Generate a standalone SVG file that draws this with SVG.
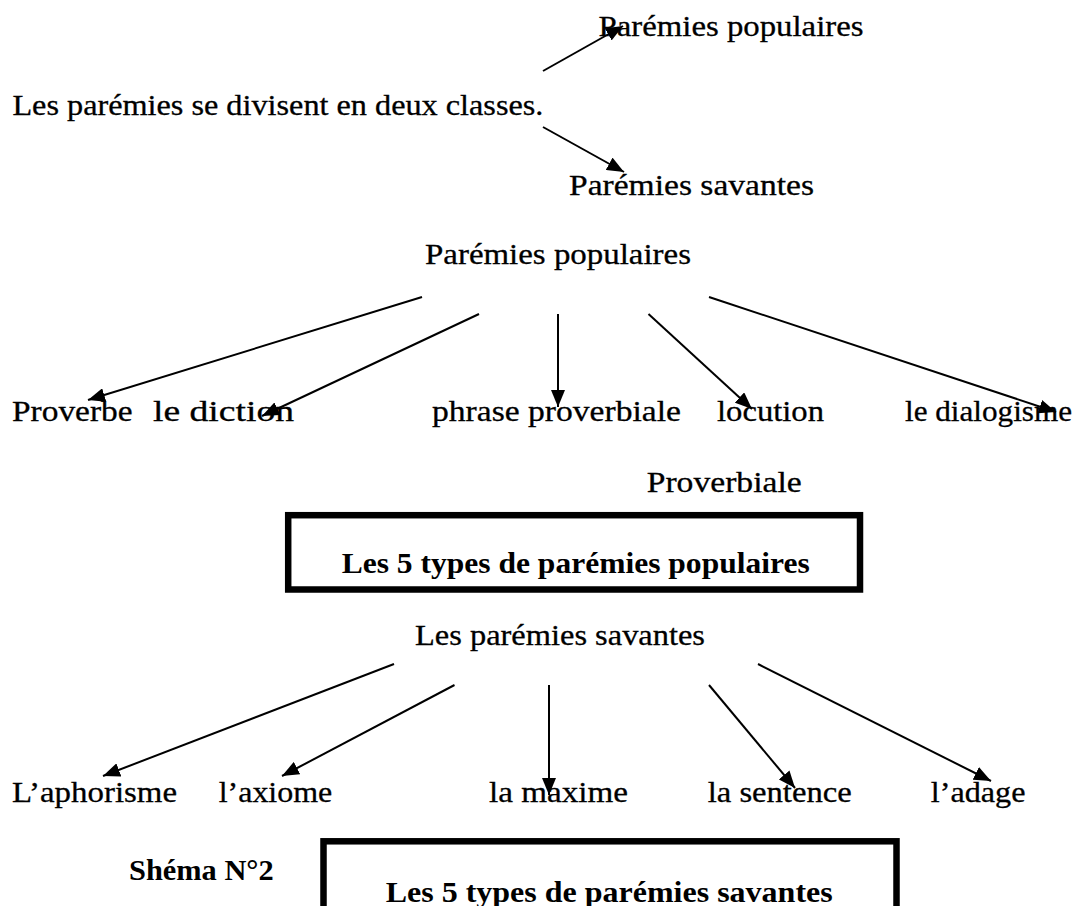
<svg xmlns="http://www.w3.org/2000/svg" width="1080" height="906" viewBox="0 0 1080 906">
<style>
.t{font-family:"Liberation Serif","Times New Roman",serif;font-size:30px;fill:#000;stroke:#000;stroke-width:0.3}
.b{font-family:"Liberation Serif","Times New Roman",serif;font-size:30px;font-weight:bold;fill:#000}
.c{stroke:#000;stroke-width:2;fill:none;marker-end:url(#ah)}
.box{fill:#fff;stroke:#000;stroke-width:6.5}
</style>
<defs>
<marker id="ah" markerUnits="userSpaceOnUse" markerWidth="18" markerHeight="14" refX="17" refY="7" orient="auto">
<path d="M0,0 L17,7 L0,14 Z" fill="#000"/>
</marker>
</defs>
<rect width="1080" height="906" fill="#fff"/>
<g id="root"><text class="t" x="12.4" y="115" textLength="531" lengthAdjust="spacingAndGlyphs">Les parémies se divisent en deux classes.</text></g>
<g id="pop_top"><text class="t" x="598.5" y="36" textLength="265" lengthAdjust="spacingAndGlyphs">Parémies populaires</text></g>
<g id="sav_top"><text class="t" x="569" y="194.6" textLength="245" lengthAdjust="spacingAndGlyphs">Parémies savantes</text></g>
<g id="pop"><text class="t" x="425" y="264.4" textLength="266" lengthAdjust="spacingAndGlyphs">Parémies populaires</text></g>
<g id="proverbe"><text class="t" x="12" y="421" textLength="120.6" lengthAdjust="spacingAndGlyphs">Proverbe</text></g>
<g id="diction"><text class="t" x="153" y="421" textLength="141" lengthAdjust="spacingAndGlyphs">le diction</text></g>
<g id="phrase"><text class="t" x="432" y="421" textLength="249" lengthAdjust="spacingAndGlyphs">phrase proverbiale</text></g>
<g id="locution"><text class="t" x="717" y="421" textLength="107" lengthAdjust="spacingAndGlyphs">locution</text></g>
<g id="dialogisme"><text class="t" x="905" y="421" textLength="167" lengthAdjust="spacingAndGlyphs">le dialogisme</text></g>
<g id="proverbiale2"><text class="t" x="646.7" y="492.3" textLength="155" lengthAdjust="spacingAndGlyphs">Proverbiale</text></g>
<g id="box_pop">
<rect class="box" x="288.2" y="515.2" width="571.8" height="74.3"/>
<text class="b" x="341.7" y="573.3" textLength="468" lengthAdjust="spacingAndGlyphs">Les 5 types de parémies populaires</text>
</g>
<g id="sav"><text class="t" x="415" y="645" textLength="290" lengthAdjust="spacingAndGlyphs">Les parémies savantes</text></g>
<g id="aphorisme"><text class="t" x="12" y="801.8" textLength="165" lengthAdjust="spacingAndGlyphs">L’aphorisme</text></g>
<g id="axiome"><text class="t" x="218.7" y="801.8" textLength="113.6" lengthAdjust="spacingAndGlyphs">l’axiome</text></g>
<g id="maxime"><text class="t" x="489" y="801.8" textLength="139" lengthAdjust="spacingAndGlyphs">la maxime</text></g>
<g id="sentence"><text class="t" x="707.7" y="801.8" textLength="144" lengthAdjust="spacingAndGlyphs">la sentence</text></g>
<g id="adage"><text class="t" x="930.8" y="801.8" textLength="94.7" lengthAdjust="spacingAndGlyphs">l’adage</text></g>
<g id="schema"><text class="b" x="129" y="880.4" textLength="144.7" lengthAdjust="spacingAndGlyphs">Shéma N°2</text></g>
<g id="box_sav">
<rect class="box" x="323.5" y="841.3" width="573" height="90"/>
<text class="b" x="385.7" y="901.7" textLength="447" lengthAdjust="spacingAndGlyphs">Les 5 types de parémies savantes</text>
</g>
<g id="connectors">
<line class="c" x1="543" y1="71" x2="623" y2="26"/>
<line class="c" x1="543" y1="127" x2="624" y2="172"/>
<line class="c" x1="422" y1="297" x2="88" y2="400"/>
<line class="c" x1="479" y1="314" x2="262" y2="416"/>
<line class="c" x1="558" y1="314" x2="558" y2="407"/>
<line class="c" x1="648.5" y1="314" x2="752" y2="409"/>
<line class="c" x1="709" y1="297" x2="1056" y2="412"/>
<line class="c" x1="394" y1="664" x2="103" y2="776"/>
<line class="c" x1="454.5" y1="685" x2="282" y2="776"/>
<line class="c" x1="549" y1="685" x2="549" y2="795"/>
<line class="c" x1="709" y1="685" x2="795" y2="788"/>
<line class="c" x1="758" y1="664" x2="991" y2="781"/>
</g>
</svg>
